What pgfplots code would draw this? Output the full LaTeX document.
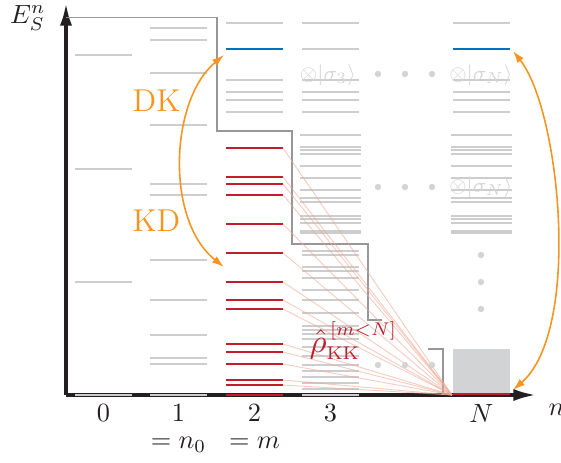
\documentclass[border=0pt]{standalone}
\usepackage{graphicx}
\usepackage{pgfplots}
\pgfplotsset{compat=1.18}
\usetikzlibrary{arrows.meta}

\definecolor{levgray}{RGB}{205,205,205}
\definecolor{kkred}{RGB}{192,30,45}
\definecolor{dkblue}{RGB}{0,114,189}
\definecolor{arcorange}{RGB}{247,148,30}
\definecolor{stairgray}{RGB}{150,150,155}
\definecolor{fanpink}{RGB}{236,170,150}
\definecolor{boxgray}{RGB}{210,211,213}
\definecolor{axisblack}{RGB}{35,31,32}
\definecolor{dotgray}{RGB}{212,212,212}
\definecolor{textgray}{RGB}{214,214,214}

% a set of energy levels: horizontal bars of half-width #1 around a column centre
\pgfplotsset{
  levels/.style n args={3}{draw=none, mark=none, forget plot,
    error bars/.cd, x dir=both, x fixed=#1, error mark=none,
    error bar style={draw=#2, line width=#3}},
}

\begin{document}
\begin{tikzpicture}
\begin{axis}[
  x=0.38pt, y=0.38pt,
  xmin=66, xmax=537, ymin=-395, ymax=-2,
  axis lines*=left, clip=false,
  axis line style={line width=1.5pt, draw=axisblack},
  x axis line style={-{Latex[length=9pt,width=4.6pt]}},
  y axis line style={-{Latex[length=9pt,width=4.6pt]}},
  ytick=\empty,
  xtick={103.5,178.5,254.5,330.5,481.5},
  xticklabels={$0$, {$1$\\[-1.7pt]$=n_0$}, {$2$\\[-1.7pt]$=m$}, $3$, $N$},
  xticklabel style={align=center, text=axisblack},
  major tick length=0pt,
]
\coordinate (BL) at (axis cs:0,-462);
\coordinate (TR) at (axis cs:561,0);

% grey block in column N
\addplot[fill=boxgray, draw=none, forget plot] coordinates {(453,-349) (510,-349) (510,-395) (453,-395)} -- cycle;

% staircase
\addplot[stairgray, line width=0.75pt, forget plot] coordinates {(66,-17.5) (217,-17.5) (217,-131) (292,-131) (292,-244) (368,-244) (368,-320) (382,-320)};
\addplot[stairgray, line width=0.75pt, forget plot] coordinates {(428,-349) (443,-349) (443,-395)};

% column 0
\addplot[levels={28.5}{levgray}{0.75pt}] coordinates {(103.5,-55) (103.5,-169) (103.5,-282) (103.5,-395)};
% column 1
\addplot[levels={28.5}{levgray}{0.75pt}] coordinates {(178.5,-28) (178.5,-40) (178.5,-73) (178.5,-125) (178.5,-184) (178.5,-195) (178.5,-260) (178.5,-300) (178.5,-335) (178.5,-358) (178.5,-364) (178.5,-395)};
% column 2
\addplot[levels={28.5}{levgray}{0.75pt}] coordinates {(254.5,-23) (254.5,-80) (254.5,-92) (254.5,-100) (254.5,-112)};
\addplot[levels={28.5}{dkblue}{1pt}] coordinates {(254.5,-49)};
\addplot[levels={28.5}{kkred}{0.85pt}] coordinates {(254.5,-148) (254.5,-177) (254.5,-184) (254.5,-195) (254.5,-224) (254.5,-253) (254.5,-282) (254.5,-300) (254.5,-309) (254.5,-344) (254.5,-352) (254.5,-364) (254.5,-380) (254.5,-385)};
\addplot[levels={28.5}{kkred}{1.1pt}] coordinates {(254.5,-395)};
% column 3
\addplot[levels={28.5}{levgray}{0.75pt}] coordinates {(330.5,-23) (330.5,-49) (330.5,-80) (330.5,-92) (330.5,-100) (330.5,-112)};
\addplot[levels={30.5}{levgray}{0.75pt}] coordinates {(330.5,-135) (330.5,-147) (330.5,-150) (330.5,-154) (330.5,-166) (330.5,-178) (330.5,-190) (330.5,-198) (330.5,-202) (330.5,-216) (330.5,-219) (330.5,-223)};
\addplot[levels={30.5}{levgray}{1.3pt}] coordinates {(330.5,-232)};
\addplot[levels={28.5}{levgray}{0.75pt}] coordinates {(330.5,-251) (330.5,-255) (330.5,-267) (330.5,-271) (330.5,-278) (330.5,-290) (330.5,-300) (330.5,-313) (330.5,-326) (330.5,-330) (330.5,-334) (330.5,-339) (330.5,-347) (330.5,-356) (330.5,-365) (330.5,-371) (330.5,-377) (330.5,-383) (330.5,-389) (330.5,-395)};
% column N
\addplot[levels={28.5}{levgray}{0.75pt}] coordinates {(481.5,-23) (481.5,-80) (481.5,-92) (481.5,-100) (481.5,-112)};
\addplot[levels={28.5}{dkblue}{1pt}] coordinates {(481.5,-49)};
\addplot[levels={30.5}{levgray}{0.75pt}] coordinates {(481.5,-135) (481.5,-147) (481.5,-150) (481.5,-154) (481.5,-166) (481.5,-178) (481.5,-190) (481.5,-198) (481.5,-202) (481.5,-216) (481.5,-219) (481.5,-223)};
\addplot[levels={30.5}{levgray}{1.3pt}] coordinates {(481.5,-232)};

% fan of Kraus-Kraus couplings towards the bottom of column N
\pgfplotsinvokeforeach{148,177,184,195,224,253,282,300,309,344,352,364,380,385}{
  \addplot[fanpink, line width=0.35pt, opacity=0.6, forget plot] coordinates {(283,-#1) (452,-395)};
}
\addplot[levels={28.5}{kkred}{1.1pt}] coordinates {(481.5,-394)};

% ellipsis dots
\addplot[only marks, mark=*, mark size=1pt, draw=dotgray, fill=dotgray, forget plot] coordinates {
  (378,-74) (405,-74) (432,-74)
  (378,-187) (405,-187) (432,-187)
  (378,-365) (405,-365) (432,-365)
  (481,-255) (481,-282) (481,-309)};

% tensor-factor labels
\node[textgray, font=\footnotesize] at (axis cs:328,-75) {$\otimes|\sigma_3\rangle$};
\node[textgray, font=\footnotesize] at (axis cs:481,-75) {$\otimes|\sigma_N\rangle$};
\node[textgray, font=\footnotesize] at (axis cs:481,-187) {$\otimes|\sigma_N\rangle$};

% orange transitions
\draw[arcorange, line width=0.6pt, {Latex[length=4.6pt,width=3pt]}-{Latex[length=4.6pt,width=3pt]}]
  (axis cs:224,-267) .. controls (axis cs:165,-220) and (axis cs:170,-100) .. (axis cs:224,-55);
\draw[arcorange, line width=0.6pt, {Latex[length=4.6pt,width=3pt]}-{Latex[length=4.6pt,width=3pt]}]
  (axis cs:513,-390) .. controls (axis cs:582,-330) and (axis cs:560,-110) .. (axis cs:513,-51);
\node[arcorange, font=\large] at (axis cs:156.5,-100.5) {DK};
\node[arcorange, font=\large] at (axis cs:156.5,-221) {KD};

\node[kkred, anchor=base west, inner sep=0pt] at (axis cs:309,-352) {$\scalebox{1.25}{$\hat{\rho}$}_{\mathrm{KK}}^{\,[m<N]}$};

% axis labels
\node[axisblack, anchor=base east, inner sep=0pt] at (axis cs:46,-23.5) {$E_S^n$};
\node[axisblack, anchor=base west, inner sep=0pt] at (axis cs:548,-415) {$n$};
\end{axis}
\pgfresetboundingbox
\path[use as bounding box] (BL) rectangle (TR);
\end{tikzpicture}
\end{document}
